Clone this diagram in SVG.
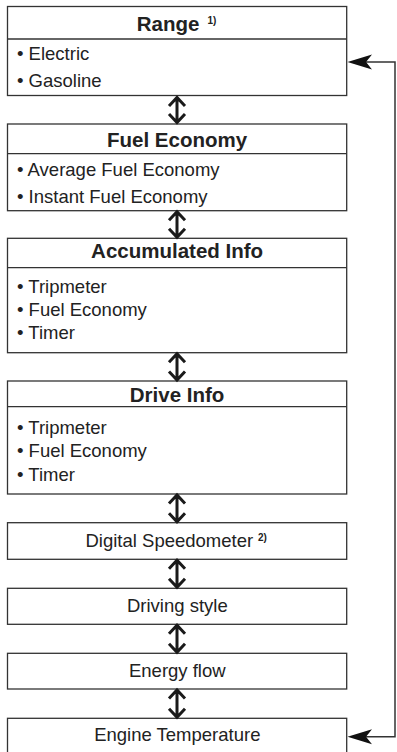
<svg xmlns="http://www.w3.org/2000/svg" width="397" height="752" viewBox="0 0 397 752">
<style>
.box{fill:#fff;stroke:#333;stroke-width:1.3}
.div{stroke:#333;stroke-width:1.3}
.hd{font-family:"Liberation Sans",Arial,sans-serif;font-weight:bold;font-size:20.5px;fill:#222;text-anchor:middle}
.it{font-family:"Liberation Sans",Arial,sans-serif;font-size:18.5px;fill:#222}
.c{text-anchor:middle}
.sup{font-family:"Liberation Sans",Arial,sans-serif;font-weight:bold;font-size:10px;fill:#222}
.dbl{fill:none;stroke:#1a1a1a;stroke-width:3;stroke-linejoin:miter}
.ln{fill:none;stroke:#333;stroke-width:1.5}
.ah{fill:#111}
</style>
<rect width="397" height="752" fill="#fff"/>
<g id="range">
<rect class="box" x="7.5" y="6.5" width="339.2" height="89"/>
<line class="div" x1="7.5" y1="39" x2="346.7" y2="39"/>
<text class="hd" x="136.7" y="31" style="text-anchor:start">Range</text>
<text class="sup" x="207.5" y="24">1)</text>
<text class="it" x="17" y="60">• Electric</text>
<text class="it" x="17" y="86.5">• Gasoline</text>
</g>
<g id="fuel-economy">
<rect class="box" x="7.5" y="124" width="339.2" height="86.7"/>
<line class="div" x1="7.5" y1="153.7" x2="346.7" y2="153.7"/>
<text class="hd" x="177.1" y="146.7">Fuel Economy</text>
<text class="it" x="17" y="176">• Average Fuel Economy</text>
<text class="it" x="17" y="202.7">• Instant Fuel Economy</text>
</g>
<g id="accumulated-info">
<rect class="box" x="7.5" y="238.3" width="339.2" height="114.4"/>
<line class="div" x1="7.5" y1="267.7" x2="346.7" y2="267.7"/>
<text class="hd" x="177.1" y="258.3">Accumulated Info</text>
<text class="it" x="17" y="293.3">• Tripmeter</text>
<text class="it" x="17" y="316">• Fuel Economy</text>
<text class="it" x="17" y="339.3">• Timer</text>
</g>
<g id="drive-info">
<rect class="box" x="7.5" y="381" width="339.2" height="113"/>
<line class="div" x1="7.5" y1="406.7" x2="346.7" y2="406.7"/>
<text class="hd" x="177.1" y="401.7">Drive Info</text>
<text class="it" x="17" y="434">• Tripmeter</text>
<text class="it" x="17" y="457.3">• Fuel Economy</text>
<text class="it" x="17" y="480.7">• Timer</text>
</g>
<g id="digital-speedometer">
<rect class="box" x="7.5" y="522.7" width="339.2" height="36.6"/>
<text class="it" x="85.5" y="547.3">Digital Speedometer</text>
<text class="sup" x="258" y="540.5">2)</text>
</g>
<g id="driving-style">
<rect class="box" x="7.5" y="588.3" width="339.2" height="36"/>
<text class="it c" x="177.3" y="611.7">Driving style</text>
</g>
<g id="energy-flow">
<rect class="box" x="7.5" y="653.3" width="339.2" height="35.7"/>
<text class="it c" x="177.3" y="676.7">Energy flow</text>
</g>
<g id="engine-temperature">
<rect class="box" x="7.5" y="718.3" width="339.2" height="40"/>
<text class="it c" x="177.3" y="740.7">Engine Temperature</text>
</g>
<g id="connectors">
<path class="dbl" d="M177,97V123M169,106L177,97.5L185,106M169,114L177,122.5L185,114"/>
<path class="dbl" d="M177,211.7V237.3M169,220.2L177,211.7L185,220.2M169,228.8L177,237.3L185,228.8"/>
<path class="dbl" d="M177,353.7V380M169,362.2L177,353.7L185,362.2M169,371.5L177,380L185,371.5"/>
<path class="dbl" d="M177,495V521.7M169,503.5L177,495L185,503.5M169,513.2L177,521.7L185,513.2"/>
<path class="dbl" d="M177,560.3V587.3M169,568.8L177,560.3L185,568.8M169,578.8L177,587.3L185,578.8"/>
<path class="dbl" d="M177,625.3V652.3M169,633.8L177,625.3L185,633.8M169,643.8L177,652.3L185,643.8"/>
<path class="dbl" d="M177,690V717.3M169,698.5L177,690L185,698.5M169,708.8L177,717.3L185,708.8"/>
<path class="ln" d="M366,736.7H395V62H366"/>
<path class="ah" d="M347.5,62L372,54.5L366,62L372,69.5Z"/>
<path class="ah" d="M347.5,736.7L372,729.2L366,736.7L372,744.2Z"/>
</g>
</svg>
